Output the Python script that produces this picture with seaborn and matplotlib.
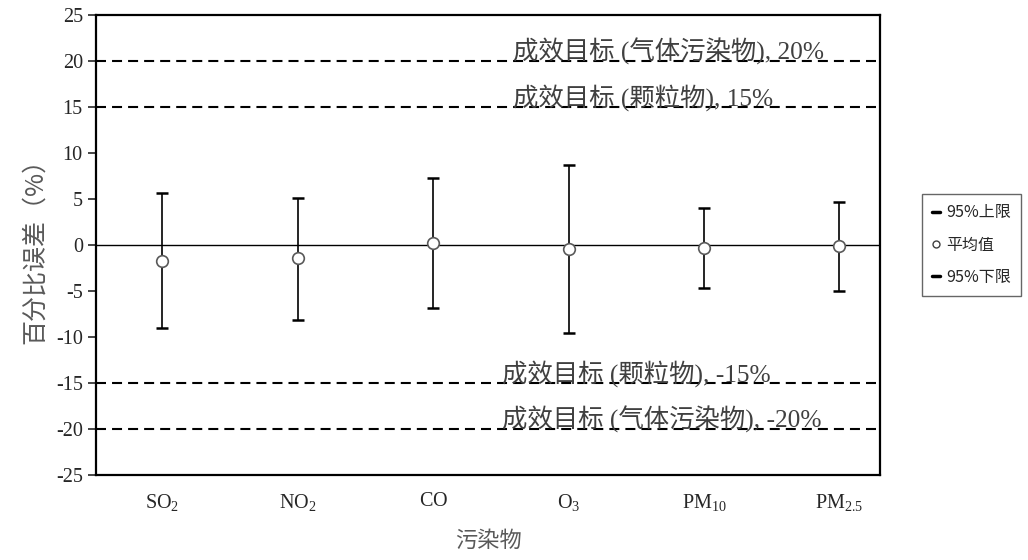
import numpy as np
import pandas as pd
import matplotlib
matplotlib.use("Agg")
import matplotlib.pyplot as plt
import seaborn as sns
from matplotlib.lines import Line2D

# data
pollutants = ["SO_2", "NO_2", "CO", "O_3", "PM_{10}", "PM_{2.5}"]
mean_err = [-1.75, -1.45, 0.25, -0.4, -0.3, -0.15]
upper_95 = [5.6, 5.15, 7.3, 8.65, 4.05, 4.7]
lower_95 = [-9.05, -8.1, -6.8, -9.6, -4.65, -5.05]
target_vals = [20, 15, -15, -20]
target_text = ["成效目标 (气体污染物), 20%", "成效目标 (颗粒物), 15%",
               "成效目标 (颗粒物), -15%", "成效目标 (气体污染物), -20%"]

sns.set_style("ticks")
plt.rcParams["font.family"] = ["Liberation Serif", "Noto Sans CJK SC"]
plt.rcParams["mathtext.default"] = "regular"
plt.rcParams["axes.unicode_minus"] = False

df = pd.DataFrame({"x": np.arange(len(pollutants)), "mean": mean_err,
                   "up": upper_95, "lo": lower_95})

fig = plt.figure(figsize=(10.28, 5.6), dpi=100)
ax = fig.add_axes([96 / 1028, 1 - 475 / 560, (880 - 96) / 1028, 460 / 560])

# zero line
ax.axhline(0, color="black", lw=1.0, zorder=1)

# target lines + labels
for v, t in zip(target_vals, target_text):
    ax.axhline(v, color="black", lw=1.5, ls=(0, (4.8, 2.9)), zorder=1)
    xt = 2.59 if v > 0 else 2.51
    ax.text(xt, v - 0.4, t, fontsize=18.3, color="#404040", va="bottom",
            ha="left", family=["Liberation Serif", "Noto Sans CJK SC"])

# 95% interval bars
ax.errorbar(df["x"], df["mean"],
            yerr=[df["mean"] - df["lo"], df["up"] - df["mean"]],
            fmt="none", ecolor="black", elinewidth=1.2, capsize=4,
            capthick=1.8, zorder=2)

# means
sns.scatterplot(data=df, x="x", y="mean", ax=ax, marker="o", s=70,
                facecolor="white", edgecolor="#595959", linewidth=1.2,
                zorder=3, legend=False)

ax.set_xlim(-0.49, 5.3)
ax.set_ylim(-25, 25)
ax.set_yticks(np.arange(-25, 26, 5))
ax.set_xticks(df["x"])
ax.set_xticklabels(["$\\mathregular{%s}$" % p for p in pollutants], fontsize=14.5)
ax.tick_params(axis="x", length=0, pad=12)
ax.tick_params(axis="y", labelsize=14.5, length=6, width=1.2, direction="out")
for sp in ax.spines.values():
    sp.set_linewidth(1.6)
    sp.set_color("black")

ax.set_xlabel("污染物", fontsize=16, color="#595959", labelpad=12,
              family=["Noto Sans CJK SC"])
ax.set_ylabel("百分比误差（%）", fontsize=18, color="#595959", labelpad=6,
              family=["Noto Sans CJK SC"])

handles = [
    Line2D([], [], color="black", lw=2.5, marker=None, linestyle="-"),
    Line2D([], [], color="none", marker="o", markersize=5,
           markerfacecolor="white", markeredgecolor="#404040"),
    Line2D([], [], color="black", lw=2.5, linestyle="-"),
]
leg = fig.legend(handles, ["95%上限", "平均值", "95%下限"],
                 loc="upper left", bbox_to_anchor=(922 / 1028, 1 - 194 / 560),
                 borderaxespad=0, frameon=True, fancybox=False,
                 handlelength=0.5, handletextpad=0.35, labelspacing=0.95,
                 borderpad=0.65,
                 prop={"family": ["Noto Sans CJK SC"], "size": 11.5})
leg.get_frame().set_edgecolor("#404040")
leg.get_frame().set_linewidth(1.0)

fig.savefig("out.png", dpi=100)
